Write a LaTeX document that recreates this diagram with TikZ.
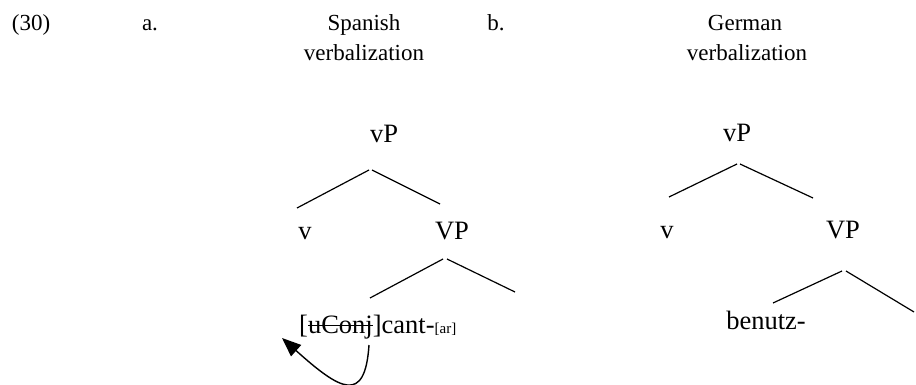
\documentclass[tikz,border=0pt]{standalone}
\usepackage{fontspec}
\setmainfont{Liberation Serif}
\usetikzlibrary{arrows.meta}
\newcommand\mystrk[1]{\setbox0\hbox{#1}\rlap{\rule[0.27em]{\wd0}{1.3pt}}\box0}
\tikzset{
  hdr/.style={inner sep=0pt, anchor=base, font=\fontsize{23}{27}\selectfont},
  lbl/.style={inner sep=0pt, anchor=base, font=\fontsize{26.5}{31}\selectfont},
  branch/.style={line width=1.2pt},
  mover/.style={line width=1.4pt, -{Triangle[length=19pt,width=15pt]}}
}
\begin{document}
\begin{tikzpicture}[x=1pt,y=-1pt]
\path[use as bounding box] (0,0) rectangle (916,385);
% header
\node[hdr] (num) at (31,31) {(30)};
\node[hdr] (la) at (150,31) {a.};
\node[hdr] (sp1) at (364,31) {Spanish};
\node[hdr] (sp2) at (364,61) {verbalization};
\node[hdr] (lb) at (496,31) {b.};
\node[hdr] (ge1) at (745,31) {German};
\node[hdr] (ge2) at (747,61) {verbalization};
% Spanish tree
\node[lbl] (svP) at (384,143) {vP};
\node[lbl] (sv) at (305,239) {v};
\node[lbl] (sVP) at (452,239) {VP};
\node[lbl, anchor=base west] (scant) at (299,333) {[\mystrk{uConj}]cant-{\fontsize{15}{17}\selectfont[ar]}};
\coordinate (sa1) at (369,170); \coordinate (sa2) at (297,208);
\coordinate (sb1) at (372,170); \coordinate (sb2) at (440,204);
\coordinate (sc1) at (443,259); \coordinate (sc2) at (370,298);
\coordinate (sd1) at (447,259); \coordinate (sd2) at (515,292);
\draw[branch] (sa1) -- (sa2);
\draw[branch] (sb1) -- (sb2);
\draw[branch] (sc1) -- (sc2);
\draw[branch] (sd1) -- (sd2);
\coordinate (mvS) at (369,345);
\coordinate (mvT) at (282,338);
\draw[mover] (mvS) .. controls (365,405) and (340,390) .. (mvT);
% German tree
\node[lbl] (gvP) at (737,142) {vP};
\node[lbl] (gv) at (667,238) {v};
\node[lbl] (gVP) at (843,238) {VP};
\node[lbl] (gben) at (766,329) {benutz-};
\coordinate (ga1) at (737,164); \coordinate (ga2) at (669,197);
\coordinate (gb1) at (740,164); \coordinate (gb2) at (813,198);
\coordinate (gc1) at (842,271); \coordinate (gc2) at (773,303);
\coordinate (gd1) at (846,271); \coordinate (gd2) at (914,312);
\draw[branch] (ga1) -- (ga2);
\draw[branch] (gb1) -- (gb2);
\draw[branch] (gc1) -- (gc2);
\draw[branch] (gd1) -- (gd2);
\end{tikzpicture}
\end{document}
